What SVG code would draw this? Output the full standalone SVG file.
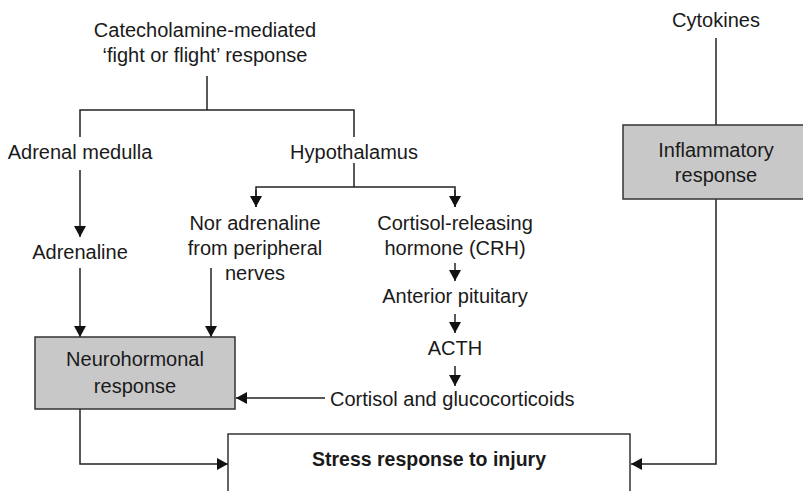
<svg xmlns="http://www.w3.org/2000/svg" width="803" height="491" viewBox="0 0 803 491">
<style>
text{font-family:"Liberation Sans",Arial,sans-serif;font-size:20px;fill:#1a1a1a;text-anchor:middle}
.b{font-weight:bold;font-size:19.5px}
.l{text-anchor:start}
.box{fill:#c8c8c8;stroke:#333;stroke-width:1.5}
.wbox{fill:#fff;stroke:#333;stroke-width:1.5}
.c{fill:none;stroke:#222;stroke-width:1.5}
</style>
<defs>
<marker id="ah" viewBox="0 0 11 12" markerUnits="userSpaceOnUse" markerWidth="11" markerHeight="12" refX="11" refY="6" orient="auto">
<path d="M0,0 L11,6 L0,12 z" fill="#111"/>
</marker>
</defs>
<rect width="803" height="491" fill="#fff"/>
<g id="connectors">
<path class="c" d="M207,76 V110"/>
<path class="c" d="M80,137 V110 H354 V137"/>
<path class="c" d="M80,170 V237" marker-end="url(#ah)"/>
<path class="c" d="M354,163 V187"/>
<path class="c" d="M256,207 V187 H455 V207" />
<path class="c" d="M256,190 V207" marker-end="url(#ah)"/>
<path class="c" d="M455,190 V207" marker-end="url(#ah)"/>
<path class="c" d="M80,268 V337" marker-end="url(#ah)"/>
<path class="c" d="M211,268 V337" marker-end="url(#ah)"/>
<path class="c" d="M455,263 V281" marker-end="url(#ah)"/>
<path class="c" d="M455,314 V333" marker-end="url(#ah)"/>
<path class="c" d="M455,366 V386" marker-end="url(#ah)"/>
<path class="c" d="M325,398 H236" marker-end="url(#ah)"/>
<path class="c" d="M80,409 V464 H228" marker-end="url(#ah)"/>
<path class="c" d="M716,38 V125"/>
<path class="c" d="M716,199 V464 H631" marker-end="url(#ah)"/>
</g>
<g id="catecholamine">
<text x="205" y="37">Catecholamine-mediated</text>
<text x="205" y="62">‘fight or flight’ response</text>
</g>
<g id="adrenal-medulla"><text x="80" y="159">Adrenal medulla</text></g>
<g id="hypothalamus"><text x="354" y="159">Hypothalamus</text></g>
<g id="adrenaline"><text x="80" y="259">Adrenaline</text></g>
<g id="noradrenaline">
<text x="255" y="230">Nor adrenaline</text>
<text x="255" y="255">from peripheral</text>
<text x="255" y="280">nerves</text>
</g>
<g id="crh">
<text x="455" y="230">Cortisol-releasing</text>
<text x="455" y="255">hormone (CRH)</text>
</g>
<g id="pituitary"><text x="455" y="303">Anterior pituitary</text></g>
<g id="acth"><text x="455" y="355">ACTH</text></g>
<g id="cortisol"><text class="l" x="330" y="406">Cortisol and glucocorticoids</text></g>
<g id="neurohormonal">
<rect class="box" x="35" y="337" width="200" height="72"/>
<text x="135" y="366">Neurohormonal</text>
<text x="135" y="393">response</text>
</g>
<g id="cytokines"><text x="716" y="27">Cytokines</text></g>
<g id="inflammatory">
<rect class="box" x="623" y="125" width="200" height="74"/>
<text x="716" y="157">Inflammatory</text>
<text x="716" y="182">response</text>
</g>
<g id="stress">
<rect class="wbox" x="228" y="434" width="402" height="100"/>
<text class="b" x="429" y="466">Stress response to injury</text>
</g>
</svg>
